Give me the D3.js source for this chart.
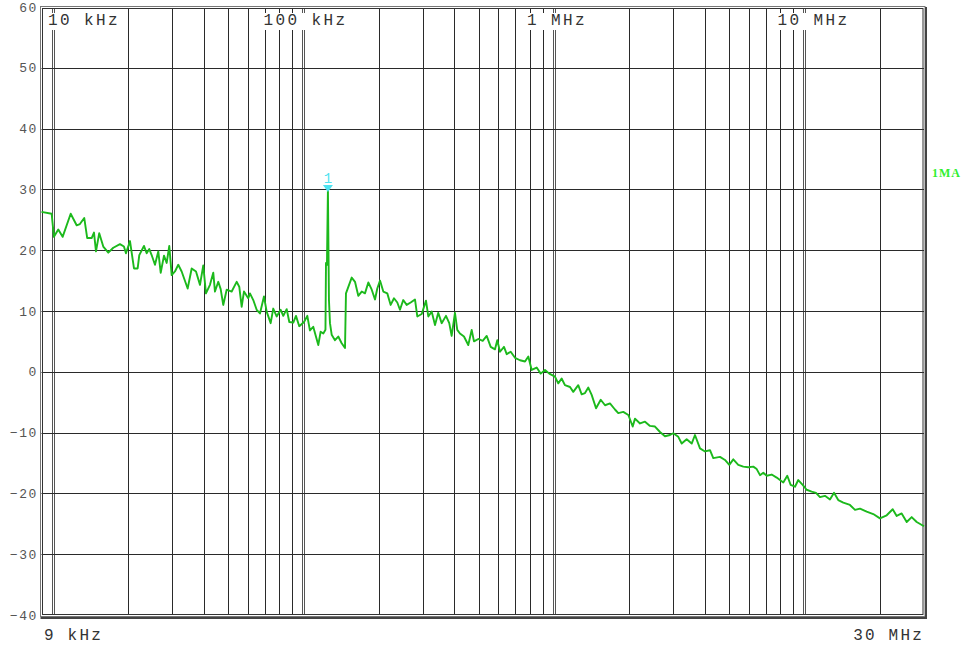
<!DOCTYPE html>
<html>
<head>
<meta charset="utf-8">
<script src="https://cdn.jsdelivr.net/npm/d3@7/dist/d3.min.js"></script>
<style>
  html, body { margin: 0; padding: 0; background: #fff; }
  svg { display: block; }
</style>
</head>
<body>
<div id="chart"></div>
<script>
// spectrum trace, frequency in kHz, level in dB
const freqKHz = [
  9.0, 9.88, 10.09, 10.5, 10.93, 11.77, 12.43, 12.81, 13.33, 13.7,
  14.27, 14.58, 14.85, 15.3, 15.88, 16.63, 17.41, 18.51, 19.2, 19.56,
  20.3, 21.06, 21.78, 22.11, 23.08, 23.66, 24.24, 24.77, 25.54, 26.33,
  26.92, 27.75, 28.44, 29.13, 29.78, 30.69, 31.64, 32.64, 34.49, 35.79,
  37.24, 38.63, 39.81, 40.81, 42.34, 43.64, 44.33, 45.7, 46.72, 47.84,
  49.37, 51.69, 54.11, 55.42, 56.66, 57.87, 60.2, 61.15, 63.04, 65.04,
  67.04, 69.55, 71.3, 73.97, 75.74, 78.16, 81.1, 83.07, 85.7, 87.78,
  91.06, 93.34, 96.21, 100.5, 103.6, 106.1, 109.4, 114.6, 117.1, 120.0,
  122.4, 123.0, 124.1, 125.2, 126.4, 127.6, 129.6, 133.6, 137.7, 142.1,
  146.5, 147.8, 155.8, 160.6, 165.5, 170.8, 176.0, 181.5, 187.3, 193.0,
  197.1, 202.1, 208.3, 216.1, 222.9, 229.8, 236.9, 242.8, 250.2, 258.2,
  267.9, 278.7, 284.7, 296.5, 308.4, 315.0, 325.0, 335.0, 345.2, 356.2,
  370.6, 381.9, 390.4, 402.5, 411.1, 421.4, 437.2, 454.9, 469.4, 479.4,
  498.8, 519.4, 538.8, 558.9, 581.5, 593.9, 608.8, 631.7, 647.6, 671.8,
  698.9, 731.8, 766.2, 789.9, 814.7, 853.0, 885.1, 920.9, 958.1,
  1009, 1040, 1073, 1106, 1159, 1194, 1250, 1290, 1330, 1371,
  1414, 1472, 1537, 1599, 1673, 1752, 1806, 1891, 1981, 2062,
  2106, 2205, 2309, 2417, 2531, 2650, 2774, 2905, 2994, 3135,
  3235, 3386, 3546, 3655, 3827, 4007, 4196, 4325, 4600, 4816,
  5010, 5198, 5442, 5698, 5966, 6247, 6446, 6645, 6850, 7066,
  7397, 7745, 7984, 8230, 8537, 8808, 9164, 9446, 9835, 10200,
  10680, 11120, 11530, 12070, 12640, 13120, 13640, 14290, 15190, 15910,
  16660, 17710, 18820, 20010, 21290, 22500, 23340, 24430, 25590, 26790,
  28050, 30000
];
const levelDb = [
  26.3, 26.0, 22.2, 23.4, 22.2, 26.0, 24.1, 24.3, 25.3, 22.0,
  22.0, 22.9, 19.8, 22.8, 20.6, 19.6, 20.4, 21.0, 20.6, 19.5,
  21.5, 17.0, 17.0, 19.2, 20.7, 19.5, 20.2, 19.2, 17.6, 19.8,
  16.3, 19.1, 17.9, 20.7, 15.9, 16.5, 17.6, 16.5, 13.7, 17.0,
  16.5, 14.3, 17.5, 12.9, 14.3, 16.3, 13.2, 14.8, 13.6, 11.0,
  13.5, 13.2, 14.8, 14.0, 10.7, 13.2, 12.1, 12.9, 11.8, 10.2,
  9.6, 12.4, 9.9, 8.0, 10.4, 9.1, 10.2, 9.2, 10.3, 8.2,
  8.1, 9.2, 7.5, 8.2, 9.2, 6.8, 7.4, 4.4, 6.6, 6.3,
  6.9, 17.9, 17.6, 29.9, 11.8, 8.0, 6.1, 5.2, 5.8, 4.7,
  3.9, 12.9, 15.5, 14.8, 12.5, 13.2, 12.9, 14.7, 13.5, 11.9,
  13.7, 15.0, 13.2, 12.9, 11.0, 12.1, 11.4, 10.2, 11.8, 11.0,
  11.4, 11.9, 9.1, 9.5, 11.7, 9.1, 9.9, 7.7, 9.7, 8.0,
  9.2, 8.0, 5.9, 9.7, 6.9, 6.3, 5.8, 4.4, 6.9, 5.0,
  5.4, 5.1, 5.9, 4.1, 3.7, 5.2, 3.3, 4.1, 2.9, 3.3,
  2.3, 1.9, 1.7, 2.5, 0.3, 0.7, -0.3, 0.3, -0.3,
  -0.8, -1.9, -1.1, -2.2, -2.5, -3.3, -2.2, -3.7, -3.5, -2.6,
  -3.8, -6.0, -4.6, -5.5, -5.2, -6.2, -6.8, -6.6, -7.1, -9.0,
  -7.7, -8.5, -8.2, -8.9, -9.0, -9.9, -10.6, -10.4, -10.1, -10.7,
  -11.8, -11.1, -11.8, -10.4, -12.6, -13.1, -12.9, -14.2, -14.0, -14.5,
  -15.3, -14.4, -15.3, -15.6, -15.7, -15.6, -16.0, -17.0, -16.6, -17.1,
  -16.9, -17.4, -17.8, -18.2, -17.1, -18.6, -18.9, -17.8, -18.6, -19.4,
  -19.7, -19.9, -20.6, -20.4, -21.0, -19.9, -21.1, -21.5, -21.9, -22.7,
  -22.5, -23.0, -23.4, -24.1, -23.6, -22.6, -23.7, -23.3, -24.7, -23.9,
  -24.7, -25.4
];

const yTicks = [60, 50, 40, 30, 20, 10, 0, -10, -20, -30, -40];
const decades = [10, 100, 1000, 10000];
const decadeLabels = ['10 kHz', '100 kHz', '1 MHz', '10 MHz'];
const edgeLabels = ['9 kHz', '30 MHz'];

const marker = { label: '1', freq: 125.2, level: 29.9 };
const traceName = '1MA';

const W = 964, H = 647;
const plot = { left: 41.5, right: 924, top: 7, bottom: 615 };

const x = d3.scaleLog().domain([9, 30000]).range([plot.left, plot.right]);
const y = d3.scaleLinear().domain([-40, 60]).range([plot.bottom, plot.top]);

const svg = d3.select('#chart').append('svg')
  .attr('width', W).attr('height', H)
  .attr('viewBox', `0 0 ${W} ${H}`);

svg.append('rect').attr('width', W).attr('height', H).attr('fill', '#fff');

const mono = '"Liberation Mono", "DejaVu Sans Mono", monospace';

// vertical grid: 2..9 of each decade
const minorFreqs = [];
decades.forEach((d) => {
  for (let k = 2; k <= 9; k++) {
    const f = d * k;
    if (f < 30000) minorFreqs.push(f);
  }
});

const grid = svg.append('g');
grid.selectAll('.vgrid')
  .data(minorFreqs)
  .enter().append('line')
  .attr('class', 'vgrid')
  .attr('x1', (d) => Math.round(x(d)) + 0.5)
  .attr('x2', (d) => Math.round(x(d)) + 0.5)
  .attr('y1', plot.top + 2)
  .attr('y2', plot.bottom)
  .attr('stroke', '#2a2a2a')
  .attr('stroke-width', 1);

// decade lines drawn double
decades.forEach((d) => {
  const px = Math.round(x(d));
  [-1, 1].forEach((o) => {
    grid.append('line')
      .attr('x1', px + o + 0.5).attr('x2', px + o + 0.5)
      .attr('y1', plot.top + 2).attr('y2', plot.bottom)
      .attr('stroke', '#555').attr('stroke-width', 1);
  });
});

grid.selectAll('.hgrid')
  .data(yTicks.filter((v) => v > -40 && v < 60))
  .enter().append('line')
  .attr('class', 'hgrid')
  .attr('x1', plot.left)
  .attr('x2', plot.right)
  .attr('y1', (d) => Math.round(y(d)) + 0.5)
  .attr('y2', (d) => Math.round(y(d)) + 0.5)
  .attr('stroke', '#2a2a2a')
  .attr('stroke-width', 1);

// decade labels on white boxes at the top (analyzer places them a bit left of the line)
const labelBack = [5, 40, 27, 27];
const topLab = svg.append('g');
decades.forEach((d, i) => {
  const lx = x(d) - labelBack[i];
  const w = decadeLabels[i].length * 12 + 2;
  topLab.append('rect')
    .attr('x', lx - 2).attr('y', 13)
    .attr('width', w).attr('height', 17)
    .attr('fill', '#fff');
  topLab.append('text')
    .attr('x', lx).attr('y', 25)
    .attr('font-family', mono)
    .attr('font-size', 16)
    .attr('letter-spacing', 2.4)
    .attr('fill', '#333')
    .text(decadeLabels[i]);
});

// frame
svg.append('rect')
  .attr('x', plot.left - 1).attr('y', plot.top - 0.5)
  .attr('width', plot.right - plot.left + 2).attr('height', plot.bottom - plot.top + 2)
  .attr('fill', 'none').attr('stroke', '#777').attr('stroke-width', 1);
svg.append('rect')
  .attr('x', plot.left + 1).attr('y', plot.top + 1.5)
  .attr('width', plot.right - plot.left - 2).attr('height', plot.bottom - plot.top - 2)
  .attr('fill', 'none').attr('stroke', '#333').attr('stroke-width', 1);
svg.append('path')
  .attr('d', `M${plot.left - 1},${plot.bottom + 3}H${plot.right + 2}V${plot.top}`)
  .attr('fill', 'none').attr('stroke', '#444').attr('stroke-width', 2);

// y tick labels
svg.append('g').selectAll('text')
  .data(yTicks)
  .enter().append('text')
  .attr('x', 38)
  .attr('y', (d) => y(d))
  .attr('dy', '0.35em')
  .attr('text-anchor', 'end')
  .attr('font-family', mono)
  .attr('font-size', 13)
  .attr('letter-spacing', 1.6)
  .attr('fill', '#555')
  .text((d) => (d < 0 ? '\u2212' + Math.abs(d) : d));

// start / stop labels
svg.append('text')
  .attr('x', 44).attr('y', 640)
  .attr('font-family', mono).attr('font-size', 16).attr('letter-spacing', 2.2)
  .attr('fill', '#333')
  .text(edgeLabels[0]);
svg.append('text')
  .attr('x', 924).attr('y', 640)
  .attr('text-anchor', 'end')
  .attr('font-family', mono).attr('font-size', 16).attr('letter-spacing', 2.2)
  .attr('fill', '#333')
  .text(edgeLabels[1]);

// trace
const trace = d3.zip(freqKHz, levelDb);
const line = d3.line()
  .x((d) => x(d[0]))
  .y((d) => y(d[1]));

svg.append('path')
  .datum(trace)
  .attr('d', line)
  .attr('fill', 'none')
  .attr('stroke', '#1cb91c')
  .attr('stroke-width', 1.9)
  .attr('stroke-linejoin', 'round');

// marker
const mx = x(marker.freq), my = y(marker.level);
svg.append('path')
  .attr('d', `M${mx - 5},${my - 5}L${mx + 5},${my - 5}L${mx},${my + 2}Z`)
  .attr('fill', '#4fe3f0');
svg.append('text')
  .attr('x', mx).attr('y', my - 7)
  .attr('text-anchor', 'middle')
  .attr('font-family', mono).attr('font-size', 14)
  .attr('fill', '#4fe3f0')
  .text(marker.label);

// trace label at right
svg.append('text')
  .attr('x', 932).attr('y', 177)
  .attr('font-family', '"Liberation Serif", serif')
  .attr('font-size', 12).attr('font-weight', 'bold')
  .attr('letter-spacing', 1)
  .attr('fill', '#2fef2f')
  .text(traceName);
</script>
</body>
</html>
